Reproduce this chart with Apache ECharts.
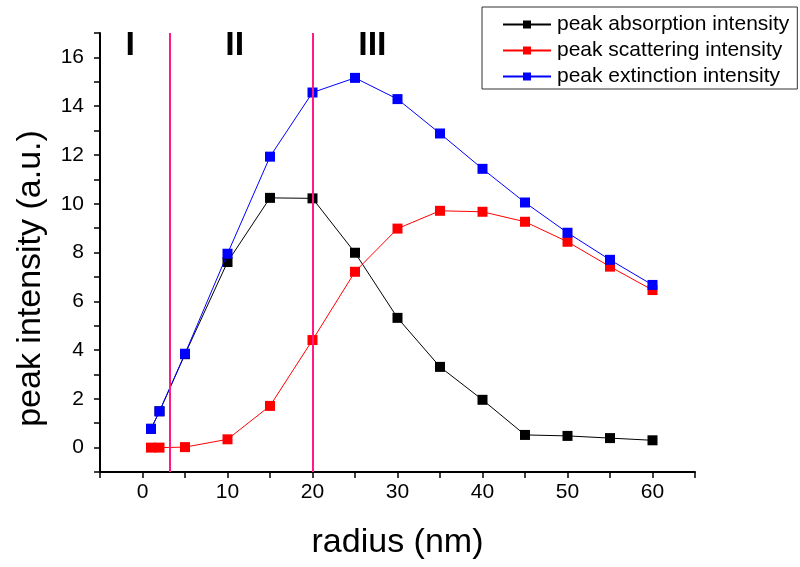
<!DOCTYPE html>
<html>
<head>
<meta charset="utf-8">
<script src="https://cdn.jsdelivr.net/npm/echarts@6/dist/echarts.min.js"></script>
<style>html,body{margin:0;padding:0;background:#fff;}#c{width:800px;height:567px;}</style>
</head>
<body>
<div id="c"></div>
<script>
var radius = [1, 2, 5, 10, 15, 20, 25, 30, 35, 40, 45, 50, 55, 60];
var absorption = [0.77, 1.49, 3.83, 7.61, 10.24, 10.22, 7.99, 5.32, 3.31, 1.96, 0.52, 0.48, 0.39, 0.30];
var scattering = [0.0, 0.0, 0.02, 0.34, 1.71, 4.41, 7.21, 8.98, 9.71, 9.67, 9.26, 8.44, 7.42, 6.46];
var extinction = [0.77, 1.49, 3.85, 7.95, 11.93, 14.56, 15.16, 14.29, 12.88, 11.43, 10.05, 8.81, 7.70, 6.67];
var seriesNames = ['peak absorption intensity', 'peak scattering intensity', 'peak extinction intensity'];
var seriesColors = ['#000000', '#FF0000', '#0000FF'];
var boundaries = [3.2, 20];
var regionLabels = ['I', 'II', 'III'];
var regionX = [-1.4, 10.9, 27.1];
var regionY = 16.45;

var FONT = 'Liberation Sans, Arial, sans-serif';
function zip(xs, ys) { return xs.map(function (x, i) { return [x, ys[i]]; }); }

var chart = echarts.init(document.getElementById('c'), null, { renderer: 'canvas' });
var allVals = [absorption, scattering, extinction];
var series = allVals.map(function (vals, i) {
  return {
    name: seriesNames[i],
    type: 'line',
    data: zip(radius, vals),
    symbol: 'rect',
    symbolSize: 10,
    color: seriesColors[i],
    lineStyle: { width: 1, color: seriesColors[i] },
    itemStyle: { color: seriesColors[i] },
    z: 3 + i
  };
});
series[0].markLine = {
  silent: true,
  symbol: ['none', 'none'],
  label: { show: false },
  lineStyle: { color: '#FF1A85', width: 2, type: 'solid' },
  data: boundaries.map(function (b) { return { xAxis: b }; }),
  z: 10
};
series.push({
  type: 'scatter',
  name: 'regions',
  symbol: 'rect',
  symbolSize: 1,
  silent: true,
  itemStyle: { color: '#ffffff', opacity: 0 },
  data: regionLabels.map(function (t, i) { return { value: [regionX[i], regionY], name: t }; }),
  label: {
    show: true,
    position: [0, 0],
    align: 'center',
    verticalAlign: 'middle',
    formatter: function (p) { return p.name; },
    fontFamily: FONT,
    fontWeight: 'bold',
    fontSize: 34,
    color: '#000000',
    textBorderWidth: 0,
    opacity: 1
  },
  z: 20
});

chart.setOption({
  animation: false,
  backgroundColor: '#fff',
  grid: { left: 100, right: 105, top: 33, bottom: 95, containLabel: false },
  legend: {
    data: seriesNames,
    orient: 'vertical',
    left: 482,
    top: 7,
    padding: [7, 8, 2, 20],
    itemWidth: 48,
    itemHeight: 10,
    itemGap: 5,
    borderColor: '#333',
    borderWidth: 1,
    textStyle: { fontFamily: FONT, fontSize: 21, color: '#000', padding: [0, 0, 0, 1] }
  },
  xAxis: {
    type: 'value',
    min: -5, max: 65, interval: 5,
    name: 'radius (nm)',
    nameLocation: 'middle',
    nameGap: 54,
    nameTextStyle: { fontFamily: FONT, fontSize: 34, color: '#000' },
    axisLine: { onZero: false, lineStyle: { color: '#000', width: 2 } },
    axisTick: { inside: false, length: 6, lineStyle: { color: '#000', width: 1.5 } },
    axisLabel: {
      margin: 10, fontFamily: FONT, fontSize: 21, color: '#000',
      formatter: function (v) { return v % 10 === 0 ? String(v) : ''; },
      showMinLabel: true, showMaxLabel: true
    },
    splitLine: { show: false }
  },
  yAxis: {
    type: 'value',
    min: -1, max: 17, interval: 1,
    name: 'peak intensity (a.u.)',
    nameLocation: 'middle',
    nameGap: 52,
    nameTextStyle: { fontFamily: FONT, fontSize: 34, color: '#000', padding: [0, 52, 0, 0] },
    axisLine: { onZero: false, lineStyle: { color: '#000', width: 2 } },
    axisTick: { inside: false, length: 6, lineStyle: { color: '#000', width: 1.5 } },
    axisLabel: {
      margin: 16, fontFamily: FONT, fontSize: 21, color: '#000',
      formatter: function (v) { return (v % 2 === 0) ? String(v) : ''; }
    },
    splitLine: { show: false }
  },
  series: series
});
</script>
</body>
</html>
